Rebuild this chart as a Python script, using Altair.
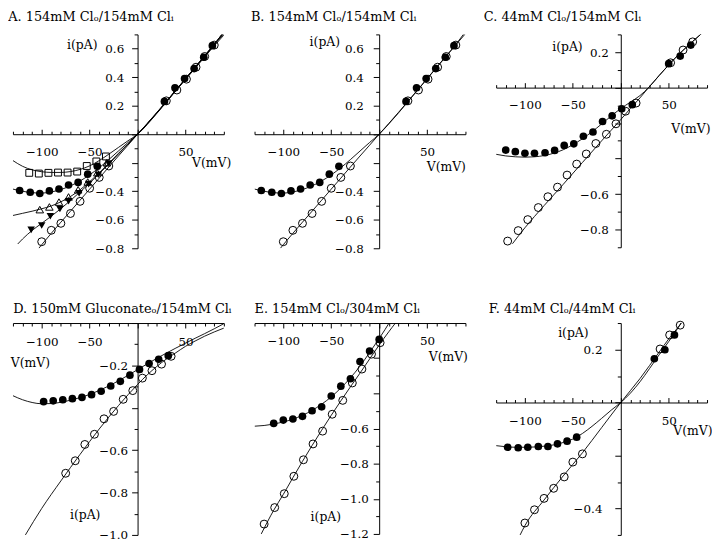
import altair as alt
import pandas as pd

FONT = "DejaVu Serif"
INK = "#000000"

# ---------------- shared voltage axis ----------------
V_MIN, V_MAX = -130, 90
V_TICKS = list(range(-130, 91, 10))
V_LABELS = [-100, -50, 50]

# ---------------- Panels A & B : 154 mM Cl_o / 154 mM Cl_i ----------------
AB_cl_v = [-123, -112, -102, -92, -82, -72, -62, -52, -42, 28, 39, 49, 59, 69, 78]
AB_cl_i = [-0.395, -0.407, -0.416, -0.398, -0.384, -0.356, -0.338, -0.280, -0.225,
           0.230, 0.326, 0.391, 0.460, 0.540, 0.621]
AB_op_v = [-100, -90, -80, -70, -60, -50, -40, -30, 30, 41, 51, 61, 70, 80]
AB_op_i = [-0.754, -0.674, -0.625, -0.556, -0.471, -0.379, -0.303, -0.223,
           0.234, 0.310, 0.386, 0.470, 0.545, 0.625]
A_sq_v = [-113, -103, -93, -83, -73, -63, -53, -43, -33]
A_sq_i = [-0.271, -0.276, -0.271, -0.269, -0.269, -0.262, -0.223, -0.191, -0.156]
A_up_v = [-102, -92, -82, -72, -62, -52, -42, -32]
A_up_i = [-0.529, -0.510, -0.476, -0.440, -0.390, -0.335, -0.270, -0.200]
A_dn_v = [-111, -100, -91, -81, -72, -61, -51, -41, -30]
A_dn_i = [-0.671, -0.641, -0.575, -0.524, -0.470, -0.415, -0.350, -0.285, -0.205]

AB_fit_cl_v = [-130, -120, -110, -100, -90, -80, -70, -60, -50, -40, -30, -20, -10, 0,
               10, 20, 30, 40, 50, 60, 70, 80, 90]
AB_fit_cl_i = [-0.385, -0.400, -0.410, -0.413, -0.405, -0.388, -0.362, -0.328, -0.285,
               -0.235, -0.178, -0.118, -0.058, 0.0, 0.072, 0.148, 0.228, 0.308, 0.388,
               0.468, 0.547, 0.627, 0.705]
AB_fit_op_v = [-103, -100, -90, -80, -70, -60, -50, -40, -30, -20, -10, 0,
               10, 20, 30, 40, 50, 60, 70, 80, 90]
AB_fit_op_i = [-0.800, -0.775, -0.695, -0.617, -0.540, -0.463, -0.385, -0.308, -0.230,
               -0.153, -0.077, 0.0, 0.075, 0.152, 0.230, 0.310, 0.390, 0.470, 0.550,
               0.630, 0.720]
A_fit_sq_v = [-130, -120, -110, -100, -90, -80, -70, -60, -50, -40, -30, -20, -10, 0,
              20, 40, 60, 80, 90]
A_fit_sq_i = [-0.185, -0.225, -0.250, -0.263, -0.268, -0.268, -0.262, -0.247, -0.222,
              -0.185, -0.140, -0.093, -0.046, 0.0, 0.145, 0.305, 0.462, 0.620, 0.695]
A_fit_up_v = [-130, -120, -110, -100, -90, -80, -70, -60, -50, -40, -30, -20, -10, 0,
              20, 40, 60, 80, 90]
A_fit_up_i = [-0.570, -0.555, -0.540, -0.523, -0.503, -0.474, -0.437, -0.390, -0.333,
              -0.270, -0.203, -0.135, -0.067, 0.0, 0.148, 0.307, 0.467, 0.630, 0.712]
A_fit_dn_v = [-125, -120, -110, -100, -90, -80, -70, -60, -50, -40, -30, -20, -10, 0,
              20, 40, 60, 80, 90]
A_fit_dn_i = [-0.770, -0.735, -0.675, -0.625, -0.575, -0.522, -0.465, -0.405, -0.343,
              -0.277, -0.210, -0.140, -0.070, 0.0, 0.150, 0.310, 0.470, 0.633, 0.716]

# ---------------- Panel C : 44 mM Cl_o / 154 mM Cl_i ----------------
C_cl_v = [-120, -110, -100, -90, -79, -69, -59, -49, -39, -29, -19, -9, 1, 12, 50, 62, 73]
C_cl_i = [-0.352, -0.361, -0.370, -0.370, -0.367, -0.354, -0.326, -0.317, -0.274, -0.250,
          -0.191, -0.159, -0.119, -0.096, 0.135, 0.178, 0.240]
C_op_v = [-118, -107, -97, -86, -76, -66, -56, -46, -36, -26, -15, -5, 5, 16, 52, 65, 75]
C_op_i = [-0.865, -0.806, -0.744, -0.676, -0.615, -0.561, -0.493, -0.431, -0.374, -0.315,
          -0.263, -0.204, -0.133, -0.087, 0.140, 0.212, 0.258]
C_fit_cl_v = [-130, -120, -110, -100, -90, -80, -70, -60, -50, -40, -30, -20, -10, 0,
              10, 20, 29, 40, 50, 62, 75, 87]
C_fit_cl_i = [-0.376, -0.385, -0.390, -0.392, -0.390, -0.383, -0.370, -0.350, -0.322,
              -0.288, -0.249, -0.205, -0.160, -0.118, -0.082, -0.045, 0.0, 0.068, 0.128,
              0.195, 0.260, 0.318]
C_fit_op_v = [-113, -100, -80, -60, -40, -20, 0, 10, 20, 29, 40, 50, 62, 75, 87]
C_fit_op_i = [-0.880, -0.790, -0.665, -0.545, -0.422, -0.300, -0.180, -0.118, -0.058,
              0.0, 0.068, 0.128, 0.195, 0.260, 0.318]

# ---------------- Panel D : 150 mM Gluconate_o / 154 mM Cl_i ----------------
D_cl_v = [-98, -88, -78, -68, -58, -48, -38, -28, -18, -8, 2, 12, 22, 32]
D_cl_i = [-0.371, -0.367, -0.362, -0.357, -0.351, -0.338, -0.322, -0.297, -0.275, -0.246,
          -0.219, -0.191, -0.171, -0.154]
D_op_v = [-75, -65, -55, -45, -35, -25, -15, -5, 5, 15, 25, 35]
D_op_i = [-0.709, -0.650, -0.573, -0.525, -0.452, -0.417, -0.360, -0.319, -0.260, -0.225,
          -0.194, -0.157]
D_fit_cl_v = [-130, -120, -110, -100, -90, -80, -70, -60, -50, -40, -30, -20, -10, 0,
              10, 20, 30, 40, 50, 60, 70, 80, 90]
D_fit_cl_i = [-0.343, -0.362, -0.375, -0.381, -0.380, -0.374, -0.364, -0.352, -0.337,
              -0.318, -0.297, -0.273, -0.247, -0.220, -0.193, -0.167, -0.142, -0.118,
              -0.095, -0.072, -0.050, -0.027, -0.003]
D_fit_op_v = [-117, -100, -80, -60, -40, -20, 0, 10, 20, 30, 40, 50, 60, 70, 80, 90]
D_fit_op_i = [-1.000, -0.875, -0.745, -0.620, -0.500, -0.390, -0.290, -0.245, -0.205,
              -0.170, -0.140, -0.110, -0.085, -0.062, -0.042, -0.024]

# ---------------- Panel E : 154 mM Cl_o / 304 mM Cl_i ----------------
E_cl_v = [-110, -100, -90, -80, -70, -60, -50, -40, -30, -20, -10, 0]
E_cl_i = [-0.571, -0.552, -0.546, -0.531, -0.499, -0.477, -0.415, -0.359, -0.317, -0.219,
          -0.159, -0.093]
E_op_v = [-120, -109, -99, -89, -79, -69, -59, -49, -38, -28, -18, -8, 1]
E_op_i = [-1.144, -1.050, -0.971, -0.872, -0.778, -0.688, -0.615, -0.519, -0.440, -0.341,
          -0.262, -0.177, -0.112]
E_fit_cl_v = [-130, -120, -110, -100, -90, -80, -70, -60, -50, -40, -30, -20, -10, 0, 6, 12]
E_fit_cl_i = [-0.587, -0.583, -0.575, -0.563, -0.547, -0.525, -0.497, -0.462, -0.420,
              -0.370, -0.312, -0.245, -0.168, -0.088, -0.038, 0.015]
E_fit_op_v = [-123, -110, -100, -90, -80, -70, -60, -50, -40, -30, -20, -10, 0, 10, 17, 20]
E_fit_op_i = [-1.200, -1.065, -0.975, -0.880, -0.787, -0.697, -0.610, -0.525, -0.443,
              -0.363, -0.285, -0.205, -0.125, -0.050, 0.0, 0.020]

# ---------------- Panel F : 44 mM Cl_o / 44 mM Cl_i ----------------
F_cl_v = [-118, -107, -97, -86, -76, -66, -56, -46, 35, 46, 56]
F_cl_i = [-0.169, -0.171, -0.169, -0.166, -0.166, -0.156, -0.146, -0.131, 0.165, 0.199, 0.255]
F_op_v = [-100, -90, -80, -70, -59, -50, -40, 41, 51, 62]
F_op_i = [-0.455, -0.405, -0.362, -0.324, -0.281, -0.225, -0.194, 0.202, 0.255, 0.292]
F_fit_cl_v = [-130, -120, -110, -100, -90, -80, -70, -60, -50, -40, -30, -20, -10, 0,
              10, 20, 30, 40, 50, 60, 64]
F_fit_cl_i = [-0.163, -0.167, -0.169, -0.169, -0.168, -0.165, -0.160, -0.151, -0.138,
              -0.117, -0.090, -0.060, -0.029, 0.0, 0.035, 0.078, 0.128, 0.180, 0.230,
              0.283, 0.305]
F_fit_op_v = [-105, -100, -80, -60, -40, -20, 0, 20, 40, 50, 60, 64]
F_fit_op_i = [-0.500, -0.465, -0.368, -0.277, -0.190, -0.095, 0.0, 0.090, 0.190, 0.240,
              0.285, 0.305]

# ---------------- styles ----------------
STYLE = {
    "closed": dict(shape="circle", filled=True, size=60),
    "open": dict(shape="circle", filled=False, size=64),
    "square": dict(shape="square", filled=False, size=48),
    "up": dict(shape="triangle-up", filled=False, size=58),
    "down": dict(shape="triangle-down", filled=True, size=58),
}
W = 213


def label_expr(vals):
    cond = " || ".join(f"abs(datum.value - ({v})) < 1e-6" for v in vals)
    return f"({cond}) ? datum.label : ''"


def panel(title, tdx, toff, pts, fits, ymin, ymax, height, ylabels,
          xorient, xlab_center, ylab_gap, ytitle, xtitle, xtitle_align):
    rows = []
    for name, vs, cs in fits:
        rows += [{"v": a, "i": b, "kind": "fit", "grp": name} for a, b in zip(vs, cs)]
    for name, vs, cs in pts:
        rows += [{"v": a, "i": b, "kind": "pt", "grp": name} for a, b in zip(vs, cs)]
    df = pd.DataFrame(rows)

    x0 = W * (0 - V_MIN) / (V_MAX - V_MIN)
    y0 = height * (ymax - 0) / (ymax - ymin)
    n0, n1 = int(round(ymin * 10)), int(round(ymax * 10))
    yticks = [round(k / 10, 1) for k in range(n0, n1 + 1)]

    text_top = xlab_center - 5
    if xorient == "top":
        xoff = -y0
        xpad = -(text_top + 5)
    else:
        xoff = y0 - height
        xpad = text_top - 5

    xaxis = alt.Axis(
        orient=xorient, offset=xoff, values=V_TICKS, format="d",
        labelExpr=label_expr(V_LABELS), labelBaseline="top", labelAlign="center",
        labelPadding=xpad,
        tickSize={"condition": {"test": "datum.value % 50 === 0", "value": 5}, "value": 3},
        title="V(mV)", titleX=xtitle[0], titleY=xtitle[1], titleAngle=0,
        titleAlign=xtitle_align, titleBaseline="middle",
    )
    yaxis = alt.Axis(
        orient="left", offset=-x0, values=yticks, format=".1f",
        labelExpr=label_expr(ylabels), labelPadding=ylab_gap - 6,
        tickSize={"condition": {"test": "abs(round(datum.value * 10)) % 2 === 0", "value": 6},
                  "value": 3.5},
        title="i(pA)", titleX=ytitle[0], titleY=ytitle[1], titleAngle=0,
        titleAlign="right", titleBaseline="middle",
    )
    base = alt.Chart(df).encode(
        x=alt.X("v:Q", scale=alt.Scale(domain=[V_MIN, V_MAX], nice=False, zero=False), axis=xaxis),
        y=alt.Y("i:Q", scale=alt.Scale(domain=[ymin, ymax], nice=False, zero=False), axis=yaxis),
    )
    layers = [
        base.transform_filter("datum.kind == 'fit'")
        .mark_line(color=INK, strokeWidth=0.9, interpolate="monotone", clip=True)
        .encode(detail="grp:N")
    ]
    for name, _, _ in pts:
        st = STYLE[name]
        layers.append(
            base.transform_filter(f"datum.kind == 'pt' && datum.grp == '{name}'")
            .mark_point(shape=st["shape"], filled=st["filled"], size=st["size"],
                        color=INK, strokeWidth=1, opacity=1)
        )
    return alt.layer(*layers).properties(
        width=W, height=height,
        title=alt.TitleParams(text=title, anchor="start", frame="group", dx=tdx,
                              offset=toff, font=FONT, fontSize=13, fontWeight="normal",
                              color=INK),
    )


pA = panel("A. 154mM Clₒ/154mM Clᵢ", -4.7, 4.4,
           [("square", A_sq_v, A_sq_i), ("up", A_up_v, A_up_i), ("down", A_dn_v, A_dn_i),
            ("open", AB_op_v, AB_op_i), ("closed", AB_cl_v, AB_cl_i)],
           [("sq", A_fit_sq_v, A_fit_sq_i), ("cl", AB_fit_cl_v, AB_fit_cl_i),
            ("up", A_fit_up_v, A_fit_up_i), ("dn", A_fit_dn_v, A_fit_dn_i),
            ("op", AB_fit_op_v, AB_fit_op_i)],
           -0.8, 0.7, 216, [0.6, 0.4, 0.2, -0.4, -0.6, -0.8],
           "top", 18, 14, (-41, 10), (220, 29), "right")
pB = panel("B. 154mM Clₒ/154mM Clᵢ", -3.7, 4.4,
           [("open", AB_op_v, AB_op_i), ("closed", AB_cl_v, AB_cl_i)],
           [("cl", AB_fit_cl_v, AB_fit_cl_i), ("op", AB_fit_op_v, AB_fit_op_i)],
           -0.8, 0.7, 216, [0.6, 0.4, 0.2, -0.4, -0.6, -0.8],
           "top", 18, 16, (-40, 7), (213, 33), "right")
pC = panel("C. 44mM Clₒ/154mM Clᵢ", -12.4, 4.4,
           [("open", C_op_v, C_op_i), ("closed", C_cl_v, C_cl_i)],
           [("cl", C_fit_cl_v, C_fit_cl_i), ("op", C_fit_op_v, C_fit_op_i)],
           -0.9, 0.3, 215, [0.2, -0.6, -0.8],
           "top", 17, 12.5, (-39, 12), (216, 41), "right")
pD = panel("D. 150mM Gluconateₒ/154mM Clᵢ", 0.3, 1,
           [("open", D_op_v, D_op_i), ("closed", D_cl_v, D_cl_i)],
           [("cl", D_fit_cl_v, D_fit_cl_i), ("op", D_fit_op_v, D_fit_op_i)],
           -1.0, 0.0, 214, [-0.2, -0.6, -0.8, -1.0],
           "bottom", 18.5, 10, (-38, 193), (-2.7, 39.5), "left")
pE = panel("E. 154mM Clₒ/304mM Clᵢ", 0, 1,
           [("open", E_op_v, E_op_i), ("closed", E_cl_v, E_cl_i)],
           [("cl", E_fit_cl_v, E_fit_cl_i), ("op", E_fit_op_v, E_fit_op_i)],
           -1.2, 0.0, 213, [-0.6, -0.8, -1.0, -1.2],
           "bottom", 18, 11, (-39, 195), (215, 34), "right")
pF = panel("F. 44mM Clₒ/44mM Clᵢ", -7.4, 1,
           [("open", F_op_v, F_op_i), ("closed", F_cl_v, F_cl_i)],
           [("cl", F_fit_cl_v, F_fit_cl_i), ("op", F_fit_op_v, F_fit_op_i)],
           -0.5, 0.3, 214, [0.2, -0.4],
           "top", 18.5, 19, (-33, 10), (218, 28.5), "right")

chart = (
    alt.concat(pA, pB, pC, pD, pE, pF, columns=3,
               spacing={"row": 75.5, "column": 31}, bounds="flush")
    .properties(padding={"left": 0, "top": 0, "right": 0, "bottom": 0}, background="white")
    .configure_view(strokeWidth=0)
    .configure_axis(grid=False, domainColor=INK, tickColor=INK, labelColor=INK,
                    titleColor=INK, labelFont=FONT, titleFont=FONT, labelFontSize=12,
                    titleFontSize=12.5, titleFontWeight="normal", labelOverlap=False,
                    labelFlush=False, tickWidth=1, domainWidth=1)
)

chart.save("out.html", embed_options={"renderer": "svg", "actions": False})
